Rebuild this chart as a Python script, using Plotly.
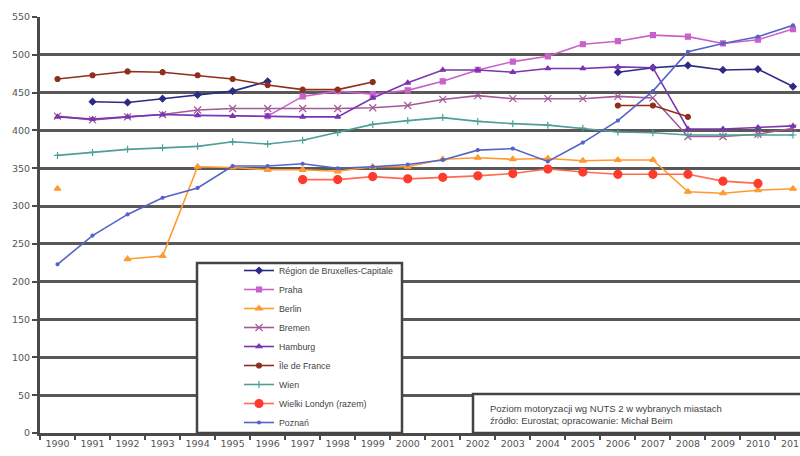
import plotly.graph_objects as go

years = [str(y) for y in range(1990, 2012)]

bruxelles = [None, 438, 437, 442, 447, 452, 465, None, None, None, None, None, None, None, None, None,
             477, 483, 486, 480, 481, 458]
praha = [None, None, None, None, None, None, 419, 445, 452, 448, 453, 465, 480, 491, 498, 514, 518, 526,
         524, 515, 520, 534]
berlin = [323, None, 230, 234, 352, 351, 348, 348, 346, 352, 352, 362, 364, 362, 363, 360, 361, 361,
          319, 317, 321, 323]
bremen = [419, 414, 418, 421, 427, 429, 429, 429, 429, 430, 433, 441, 446, 442, 442, 442, 445, 443,
          392, 392, 395, 403]
hamburg = [418, 415, 418, 421, 420, 419, 419, 418, 418, 443, 463, 480, 480, 477, 482, 482, 484, 483,
           402, 402, 404, 406]
ile_de_france = [468, 473, 478, 477, 473, 468, 460, 454, 454, 464, None, None, None, None, None, None,
                 433, 433, 418, None, None, None]
wien = [367, 371, 375, 377, 379, 385, 382, 387, 397, 408, 413, 417, 412, 409, 407, 403, 398, 397,
        394, 394, 394, 394]
londyn = [None, None, None, None, None, None, None, 335, 335, 339, 336, 338, 340, 343, 349, 345, 342,
          342, 342, 333, 330, None]
poznan = [223, 261, 289, 311, 324, 353, 353, 356, 350, 352, 355, 361, 374, 376, 359, 384, 413, 452,
          504, 515, 524, 539]

y_ticks = list(range(0, 551, 50))

series = [
    ("Région de Bruxelles-Capitale", bruxelles, "#2b2b86", "diamond", 5),
    ("Praha", praha, "#c862c8", "square", 5),
    ("Berlin", berlin, "#ff9a2e", "triangle-up", 6),
    ("Bremen", bremen, "#a25a98", "x-thin-open", 7),
    ("Hamburg", hamburg, "#7a35b0", "triangle-up", 5),
    ("Île de France", ile_de_france, "#8e2f1c", "circle", 5),
    ("Wien", wien, "#4f9e98", "cross-thin-open", 5),
    ("Wielki Londyn (razem)", londyn, "#ff3b2e", "circle", 8),
    ("Poznań", poznan, "#5563c9", "circle", 3),
]

fig = go.Figure()
for name, vals, col, sym, size in series:
    line_col = "#ff6a50" if name.startswith("Wielki") else col
    fig.add_trace(go.Scatter(
        x=years, y=vals, name=name, mode="lines+markers",
        line=dict(color=line_col, width=1.6),
        marker=dict(symbol=sym, size=size, color=col, line=dict(color=col, width=1.2)),
        connectgaps=False,
    ))

fig.update_layout(
    width=800, height=456,
    margin=dict(l=40, r=0, t=17, b=23, autoexpand=False),
    paper_bgcolor="white", plot_bgcolor="white",
    font=dict(family="DejaVu Sans", size=10, color="#555"),
    showlegend=True,
    legend=dict(
        x=(239 - 40) / 760, y=(433 - 256) / 416, xanchor="left", yanchor="top",
        bgcolor="rgba(0,0,0,0)", borderwidth=0,
        font=dict(family="Liberation Sans", size=8.8, color="#444"),
        itemwidth=30,
    ),
    xaxis=dict(
        type="category", range=[-0.5, 21.2],
        showgrid=False, showline=True, linecolor="#4a4a4a", linewidth=3,
        ticks="outside", tickson="boundaries", ticklen=4, tickcolor="#4a4a4a", tickwidth=1.5,
        tickfont=dict(family="DejaVu Sans", size=9.5, color="#555"),
        zeroline=False,
    ),
    yaxis=dict(
        range=[0, 550], tickvals=y_ticks,
        showgrid=True, gridcolor="#585858", gridwidth=3,
        showline=True, linecolor="#4a4a4a", linewidth=3,
        ticks="outside", ticklen=5, tickcolor="#4a4a4a", tickwidth=1.5,
        tickfont=dict(family="DejaVu Sans", size=9.5, color="#555"),
        zeroline=False,
    ),
    shapes=[
        dict(type="rect", xref="paper", yref="paper",
             x0=(197 - 40) / 760, x1=(402 - 40) / 760, y0=0, y1=(433 - 263) / 416,
             fillcolor="white", line=dict(color="#444", width=2.5), layer="above"),
        dict(type="rect", xref="paper", yref="paper",
             x0=(473 - 40) / 760, x1=1.05, y0=0, y1=(433 - 394) / 416,
             fillcolor="white", line=dict(color="#444", width=2.5), layer="above"),
    ],
    annotations=[
        dict(xref="paper", yref="paper", x=(488 - 40) / 760, y=(433 - 414) / 416,
             xanchor="left", yanchor="middle", align="left", showarrow=False,
             text="Poziom motoryzacji wg NUTS 2 w wybranych miastach<br>źródło: Eurostat; opracowanie: Michał Beim",
             font=dict(family="Liberation Sans", size=9.5, color="#444")),
    ],
)

fig.write_html("out.html")
